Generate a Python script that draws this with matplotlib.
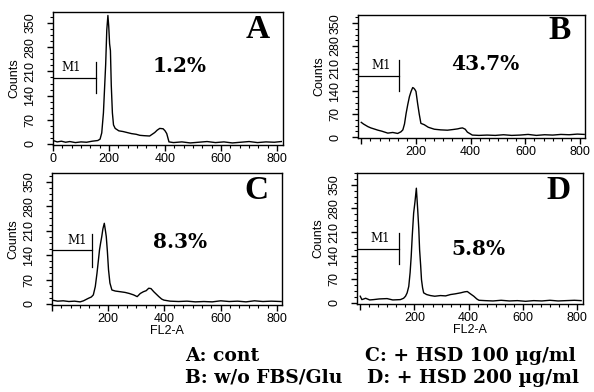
import numpy as np
import matplotlib
matplotlib.use("Agg")
import matplotlib.pyplot as plt
from matplotlib.ticker import MultipleLocator, AutoMinorLocator

# FL2-A channel / counts
chA = [0, 15, 30, 45, 60, 80, 100, 120, 140, 160, 168, 174, 180, 184, 188, 192, 196, 199, 202, 205,
       208, 212, 216, 222, 235, 250, 265, 280, 297, 310, 325, 345, 363, 372, 381, 393, 400, 406, 414, 430,
       460, 490, 520, 550, 580, 610, 640, 670, 700, 730, 760, 790, 815]
cntA = [10, 6, 8, 5, 7, 4, 6, 5, 8, 10, 14, 32, 90, 160, 230, 330, 372, 340, 290, 270,
        170, 90, 55, 45, 38, 36, 33, 30, 28, 25, 24, 23, 33, 40, 45, 44, 38, 30, 6, 4,
        6, 3, 5, 7, 4, 6, 3, 5, 7, 4, 6, 5, 7]

chB = [0, 8, 16, 24, 35, 50, 61, 75, 97, 115, 133, 145, 152, 158, 164, 170, 176, 182, 188, 192,
       196, 200, 206, 212, 218, 224, 230, 245, 267, 290, 315, 335, 352, 362, 370, 380, 388, 398, 406, 430,
       460, 490, 520, 550, 580, 610, 640, 670, 700, 730, 760, 790, 815]
cntB = [45, 40, 36, 32, 28, 24, 21, 18, 12, 14, 11, 16, 22, 40, 73, 100, 124, 140, 152, 150,
        146, 140, 103, 70, 42, 40, 38, 30, 24, 22, 21, 23, 25, 27, 28, 24, 15, 10, 6, 5,
        6, 5, 7, 5, 6, 8, 5, 7, 6, 8, 7, 9, 8]

chC = [0, 20, 40, 60, 80, 100, 112, 129, 140, 147, 154, 160, 165, 169, 173, 177, 181, 186, 190, 193,
       197, 201, 206, 213, 225, 243, 260, 275, 290, 303, 314, 325, 335, 344, 352, 362, 371, 380, 390, 398,
       420, 450, 480, 510, 540, 570, 600, 630, 660, 690, 720, 750, 780, 815]
cntC = [11, 8, 9, 7, 8, 6, 9, 16, 20, 26, 50, 88, 125, 155, 175, 193, 215, 231, 210, 193,
        150, 98, 60, 40, 37, 35, 33, 30, 26, 21, 30, 35, 38, 45, 44, 35, 28, 21, 14, 11,
        8, 7, 8, 6, 7, 6, 9, 7, 8, 6, 9, 7, 8, 7]

chD = [0, 6, 20, 35, 49, 70, 99, 120, 148, 160, 167, 173, 179, 184, 188, 192, 197, 202, 207, 212,
       216, 219, 223, 226, 230, 234, 245, 259, 275, 296, 315, 333, 350, 370, 385, 395, 405, 419, 430, 438,
       460, 490, 520, 550, 580, 610, 640, 670, 700, 730, 760, 790, 815]
cntD = [20, 10, 14, 9, 10, 12, 13, 9, 10, 14, 20, 30, 49, 90, 138, 200, 266, 300, 340, 276,
        220, 158, 110, 69, 45, 30, 25, 22, 20, 22, 21, 25, 27, 30, 33, 34, 28, 20, 12, 8,
        7, 6, 8, 6, 7, 5, 7, 6, 8, 6, 7, 8, 7]

letters = ["A", "B", "C", "D"]
percents = ["1.2%", "43.7%", "8.3%", "5.8%"]
# M1 marker: end channel, horizontal line level, vertical bar low/high
m1_x = [153, 138, 143, 142]
m1_y = [191, 187, 155, 161]
m1_lo = [148, 141, 106, 115]
m1_hi = [237, 236, 201, 206]
xticks = [0, 200, 400, 600, 800]
yticks = [0, 70, 140, 210, 280, 350]
captions = ["A: cont", "C: + HSD 100 \u00b5g/ml", "B: w/o FBS/Glu", "D: + HSD 200 \u00b5g/ml"]

W, H = 594, 392
# pixel boxes (left, right, top, bottom)
boxes = [(53, 283, 12, 145), (358, 585, 15, 138), (52, 282, 173, 305), (357, 583, 173, 304)]
xlims = [(0, 821), (-12, 818), (0, 818), (-12, 822)]
ytops = [382, 375, 375, 385]
pct_pos = [(450, 227), (455, 224), (457, 178), (436, 161)]
m1_txt = [(64, 220), (73, 221), (89, 183), (73, 192)]
cap_pos = [(185, 356), (365, 356), (185, 378), (367, 378)]

sans = "Liberation Sans"
serif = "DejaVu Serif"

fig = plt.figure(figsize=(W / 100, H / 100), dpi=100)
data = [(chA, cntA), (chB, cntB), (chC, cntC), (chD, cntD)]

for i, (l, r, t, b) in enumerate(boxes):
    ax = fig.add_axes([l / W, (H - b) / H, (r - l) / W, (b - t) / H])
    x, y = data[i]
    ax.plot(x, y, color="black", lw=1.0)
    ax.set_xlim(*xlims[i])
    ax.set_ylim(-3, ytops[i])
    ax.set_xticks(xticks)
    if i == 0:
        ax.set_xticklabels([str(v) for v in xticks])
    else:
        ax.set_xticklabels([""] + [str(v) for v in xticks[1:]])
    ax.set_yticks(yticks)
    ax.set_yticklabels([str(v) for v in yticks], rotation=90, va="center")
    ax.xaxis.set_minor_locator(MultipleLocator(200 / 6))
    ax.yaxis.set_minor_locator(AutoMinorLocator(4))
    ax.tick_params(axis="x", which="major", direction="out", length=4, width=1,
                   labelsize=9, pad=2)
    ax.tick_params(axis="y", which="major", direction="out", length=4, width=1,
                   labelsize=9, pad=8)
    ax.tick_params(axis="both", which="minor", direction="out", length=2.5, width=0.8)
    for lab in ax.get_xticklabels() + ax.get_yticklabels():
        lab.set_family(sans)
    for s in ax.spines.values():
        s.set_linewidth(1.0)
    ax.set_ylabel("Counts", family=sans, fontsize=9, labelpad=3)
    if i >= 2:
        ax.set_xlabel("FL2-A", family=sans, fontsize=9, labelpad=0)

    # M1 gate
    ax.plot([xlims[i][0], m1_x[i]], [m1_y[i], m1_y[i]], color="black", lw=0.9)
    ax.plot([m1_x[i], m1_x[i]], [m1_lo[i], m1_hi[i]], color="black", lw=0.9)
    ax.text(m1_txt[i][0], m1_txt[i][1], "M1", family=serif, fontsize=8.5,
            ha="center", va="center")

    ax.text(pct_pos[i][0], pct_pos[i][1], percents[i], family=serif, fontsize=14.5,
            fontweight="bold", ha="center", va="center")
    ax.text(0.89, 0.87, letters[i], transform=ax.transAxes, family="Liberation Serif",
            fontsize=24, fontweight="bold", ha="center", va="center")

# caption lines
for (cx, cy), txt in zip(cap_pos, captions):
    fig.text(cx / W, 1 - cy / H, txt, family=serif, fontsize=13.5,
             fontweight="bold", va="center")

fig.savefig("out.png", dpi=100)
